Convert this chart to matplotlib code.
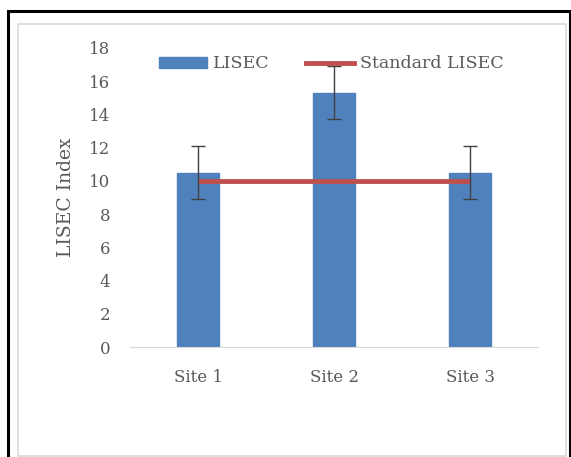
import matplotlib.pyplot as plt
from matplotlib.patches import Rectangle
from matplotlib.lines import Line2D

sites = ["Site 1", "Site 2", "Site 3"]
lisec = [10.5, 15.3, 10.5]
lisec_err = [1.6, 1.6, 1.6]
standard = [10, 10, 10]
yticks = [0, 2, 4, 6, 8, 10, 12, 14, 16, 18]

W, H = 571, 457
fig = plt.figure(figsize=(W / 100, H / 100), dpi=100)
plt.rcParams['font.family'] = ['DejaVu Serif']
txt = "#595959"

# outer black frame and inner grey chart-area frame (pixel coords -> figure fraction)
def px(x0, y0, x1, y1):
    return (x0 / W, 1 - y1 / H), (x1 - x0) / W, (y1 - y0) / H

xy, w, h = px(8, 11, 570, 462)
fig.patches.append(Rectangle(xy, w, h, transform=fig.transFigure, fill=False,
                             edgecolor="black", lw=2.2))
xy, w, h = px(18, 24, 566, 456)
fig.patches.append(Rectangle(xy, w, h, transform=fig.transFigure, fill=False,
                             edgecolor="#D9D9D9", lw=1.2))

ax = fig.add_axes([130 / W, 1 - 347 / H, 408 / W, (347 - 48) / H])
x = range(len(sites))
ax.bar(x, lisec, width=0.31, color="#4F81BD", edgecolor="#4F81BD", zorder=2,
       label="LISEC")
ax.plot(x, standard, color="#C0504D", lw=3.5, solid_capstyle="butt", zorder=3,
        label="Standard LISEC")
ax.errorbar(x, lisec, yerr=lisec_err, fmt="none", ecolor="#404040", elinewidth=1,
            capsize=5, capthick=1, zorder=4)

ax.set_xlim(-0.5, 2.5)
ax.set_ylim(0, 18)
ax.set_yticks(yticks)
ax.set_xticks(list(x))
ax.set_xticklabels(sites)
ax.tick_params(axis="both", length=0, colors=txt, labelsize=12)
ax.tick_params(axis="y", pad=14)
ax.tick_params(axis="x", pad=16)
for s in ["top", "right", "left"]:
    ax.spines[s].set_visible(False)
ax.spines["bottom"].set_color("#D9D9D9")
ax.set_ylabel("LISEC Index", color=txt, fontsize=13.5, labelpad=10)

handles = [Rectangle((0, 0), 1, 1, color="#4F81BD"),
           Line2D([0], [0], color="#C0504D", lw=3.5)]
leg = ax.legend(handles, ["LISEC", "Standard LISEC"], ncol=2, frameon=False,
                loc="center", bbox_to_anchor=(331 / W, 1 - 64 / H),
                bbox_transform=fig.transFigure, fontsize=12.5, handlelength=2.8,
                handleheight=0.55, handletextpad=0.3, columnspacing=2.1)
for t in leg.get_texts():
    t.set_color(txt)

fig.savefig("out.png", dpi=100)
